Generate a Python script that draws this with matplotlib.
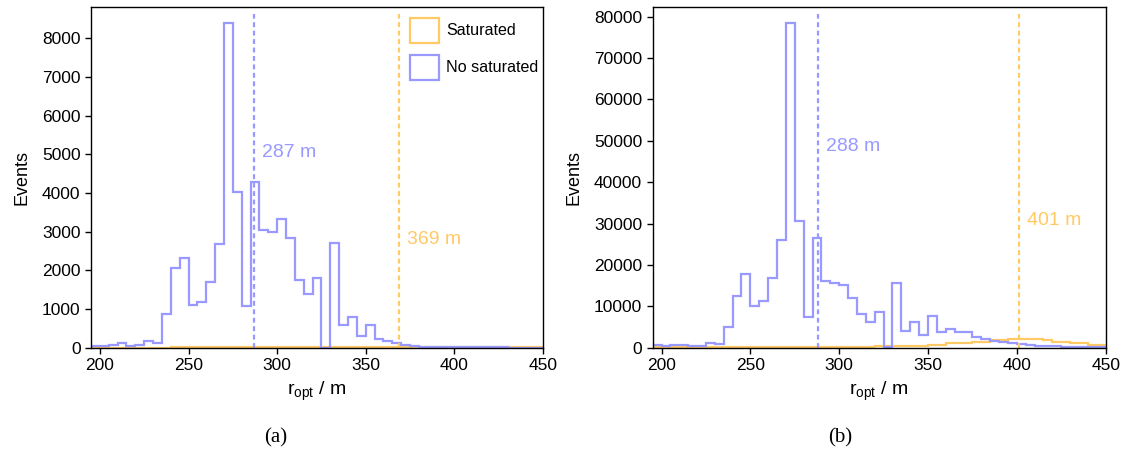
import numpy as np
import matplotlib
matplotlib.use('Agg')
import matplotlib.pyplot as plt

plt.rcParams['font.family'] = ['Liberation Sans', 'DejaVu Sans']
plt.rcParams['mathtext.default'] = 'regular'

# bin edges: 5 m wide from 195 m to 450 m
edges = np.arange(195, 451, 5)

# (a) counts per bin, no saturated stations
no_sat_a = [50, 50, 80, 120, 50, 80, 170, 120, 880, 2070,
            2310, 1100, 1170, 1690, 2670, 8400, 4040, 1070, 4280, 3040,
            3000, 3330, 2830, 1750, 1390, 1810, 0, 2720, 590, 790,
            300, 600, 215, 180, 120, 80, 40, 25, 20, 15,
            12, 10, 10, 8, 8, 6, 6, 5, 5, 5, 5]
# (a) saturated
sat_a = [5, 5, 5, 5, 5, 5, 5, 5, 5, 8,
         8, 8, 10, 10, 10, 10, 12, 12, 12, 15,
         15, 15, 18, 18, 20, 20, 20, 22, 22, 25,
         25, 28, 28, 30, 30, 30, 30, 30, 28, 28,
         25, 25, 22, 20, 20, 18, 15, 15, 12, 10, 10]

# (b) no saturated
no_sat_b = [640, 480, 640, 640, 480, 480, 1050, 800, 5070, 12560,
            17870, 10060, 11270, 16900, 26090, 78500, 30680, 7330, 26570, 16180,
            15540, 15140, 12080, 8130, 6280, 8530, 250, 15700, 4030, 6280,
            3060, 7730, 3860, 4430, 3700, 3700, 2660, 2010, 1690, 1450,
            1050, 800, 640, 480, 400, 320, 280, 250, 220, 200, 200]
# (b) saturated
sat_b = [100, 100, 100, 120, 120, 120, 130, 130, 140, 140,
         150, 150, 160, 160, 170, 170, 180, 180, 190, 200,
         200, 220, 240, 260, 280, 300, 320, 380, 420, 480,
         520, 700, 720, 1050, 1050, 1050, 1450, 1450, 1850, 1850,
         2000, 2090, 2090, 2090, 1850, 1450, 1450, 1050, 1050, 640, 640]

medians_a = {'no_sat': 287, 'sat': 369}
medians_b = {'no_sat': 288, 'sat': 401}

blue = '#9999ff'
yellow = '#ffc966'

fig = plt.figure(figsize=(11.28, 4.5), dpi=100)
ax_a = fig.add_axes([0.0807, 0.2273, 0.4007, 0.7578])
ax_b = fig.add_axes([0.5786, 0.2273, 0.4016, 0.7578])

centers = edges[:-1] + 2.5


def draw_panel(ax, sat, no_sat, med, txt_y, show_legend):
    ax.hist(centers, bins=edges, weights=sat, histtype='step', color=yellow,
            lw=1.6, label='Saturated')
    ax.hist(centers, bins=edges, weights=no_sat, histtype='step', color=blue,
            lw=1.6, label='No saturated')
    ax.set_xlim(195, 450)
    ax.set_ylim(0, max(no_sat) * 1.05)
    ax.axvline(med['no_sat'], ymax=0.98, color=blue, lw=1.6, ls=(0, (2.2, 1.6)))
    ax.axvline(med['sat'], ymax=0.98, color=yellow, lw=1.6, ls=(0, (2.2, 1.6)))
    ax.text(med['no_sat'] + 4.5, txt_y[0], f"{med['no_sat']} m", color=blue,
            fontsize=14, va='center', transform=ax.get_xaxis_transform())
    ax.text(med['sat'] + 4.5, txt_y[1], f"{med['sat']} m", color=yellow,
            fontsize=14, va='center', transform=ax.get_xaxis_transform())
    ax.set_xticks([200, 250, 300, 350, 400, 450])
    ax.tick_params(labelsize=12.5, direction='out', length=4, width=1,
                   top=False, right=False)
    ax.set_xlabel(r'r$_{opt}$ / m', fontsize=14, labelpad=5)
    ax.set_ylabel('Events', fontsize=13, labelpad=8)
    for s in ax.spines.values():
        s.set_linewidth(1)
    if show_legend:
        ax.legend(loc='upper right', bbox_to_anchor=(0.998, 0.979),
                  frameon=False, fontsize=11.6,
                  handlelength=1.8, handleheight=2.0, handletextpad=0.4,
                  labelspacing=0.75, borderpad=0.25, borderaxespad=0)


draw_panel(ax_a, sat_a, no_sat_a, medians_a, (0.571, 0.316), True)
draw_panel(ax_b, sat_b, no_sat_b, medians_b, (0.589, 0.374), False)

fig.text(0.2447, 0.028, '(a)', ha='center', va='center', fontsize=15,
         family='Liberation Serif')
fig.text(0.745, 0.028, '(b)', ha='center', va='center', fontsize=15,
         family='Liberation Serif')

fig.savefig('out.png', dpi=100)
